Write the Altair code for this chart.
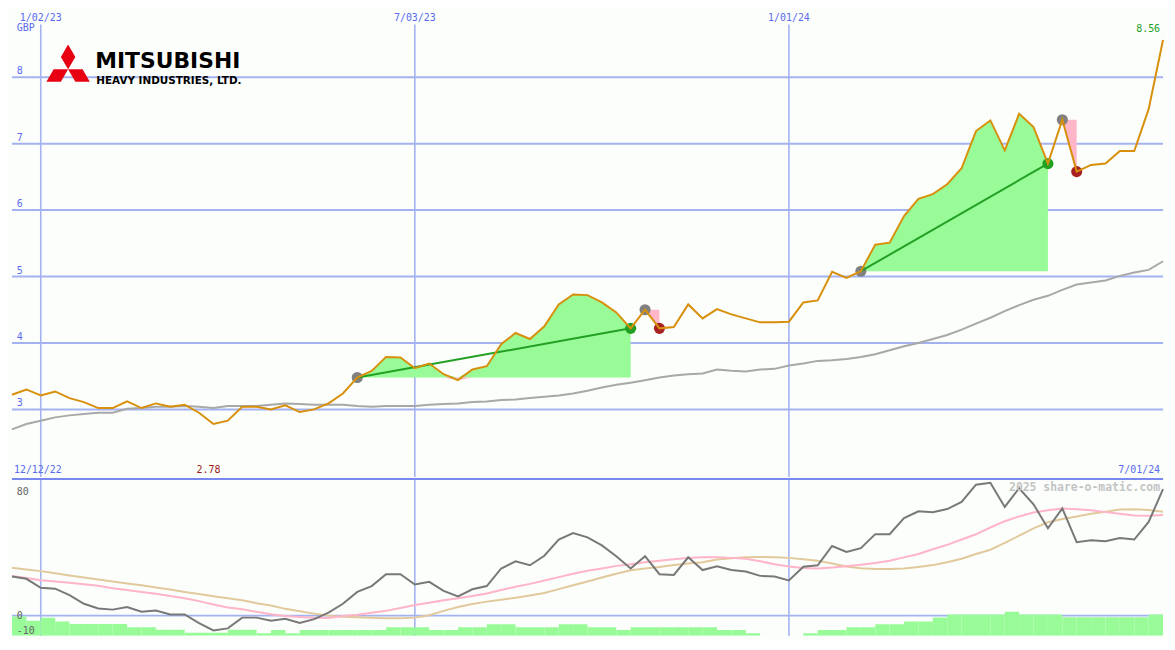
import altair as alt
import pandas as pd

# ---------------- data (weekly) ----------------
start_date = "2022-12-19"
end_date = "2024-07-01"

price = [3.22, 3.30, 3.21, 3.27, 3.17, 3.11, 3.02, 3.02, 3.12, 3.02,
         3.09, 3.04, 3.07, 2.95, 2.78, 2.83, 3.04, 3.04, 3.00, 3.06,
         2.96, 3.00, 3.09, 3.24, 3.48, 3.58, 3.79, 3.78, 3.62, 3.69,
         3.53, 3.44, 3.60, 3.65, 3.98, 4.15, 4.06, 4.25, 4.58, 4.73,
         4.72, 4.61, 4.46, 4.22, 4.50, 4.22, 4.24, 4.58, 4.37, 4.51,
         4.43, 4.37, 4.31, 4.31, 4.32, 4.61, 4.64, 5.07, 4.98, 5.08,
         5.48, 5.51, 5.91, 6.17, 6.24, 6.39, 6.63, 7.19, 7.35, 6.90,
         7.45, 7.25, 6.70, 7.36, 6.58, 6.68, 6.70, 6.89, 6.89, 7.52,
         8.56]

moving_avg = [2.70, 2.78, 2.83, 2.88, 2.91, 2.93, 2.95, 2.95, 3.01, 3.02,
              3.04, 3.04, 3.05, 3.04, 3.02, 3.05, 3.05, 3.05, 3.07, 3.09,
              3.08, 3.07, 3.07, 3.07, 3.05, 3.04, 3.05, 3.05, 3.05, 3.07,
              3.08, 3.09, 3.11, 3.12, 3.14, 3.15, 3.17, 3.19, 3.21, 3.24,
              3.28, 3.33, 3.37, 3.40, 3.44, 3.48, 3.51, 3.53, 3.54, 3.60,
              3.58, 3.57, 3.60, 3.61, 3.66, 3.69, 3.73, 3.74, 3.76, 3.79,
              3.83, 3.89, 3.95, 4.00, 4.06, 4.12, 4.20, 4.29, 4.38, 4.48,
              4.57, 4.65, 4.71, 4.80, 4.88, 4.91, 4.94, 5.01, 5.06, 5.10,
              5.23]

osc = [25.4, 23.9, 18.1, 17.5, 13.3, 7.7, 4.6, 3.9, 5.6, 2.5,
       3.3, 0.8, 0.8, -4.8, -9.6, -8.3, -1.3, -1.3, -3.3, -2.1,
       -4.8, -2.3, 1.9, 7.7, 15.4, 19.2, 26.9, 26.9, 20.2, 21.9,
       16.1, 12.5, 17.1, 19.2, 30.6, 35.2, 32.7, 38.9, 49.4, 53.6,
       50.8, 45.6, 38.6, 30.6, 38.6, 26.9, 26.4, 37.9, 29.6, 32.1,
       29.6, 28.6, 25.8, 25.4, 22.9, 31.7, 32.7, 45.2, 41.4, 43.8,
       52.9, 52.9, 63.3, 67.7, 67.1, 69.2, 73.8, 85.0, 86.3, 70.6,
       82.7, 72.3, 56.7, 69.6, 47.7, 48.9, 48.3, 50.4, 49.4, 60.8,
       82.1]

osc_fast = [25.8, 24.4, 22.9, 22.2, 21.3, 20.3, 19.4, 17.8, 16.7, 15.4,
            14.2, 12.8, 11.3, 9.4, 7.2, 5.3, 4.1, 2.5, 0.9, -0.3,
            -0.9, -1.4, -1.6, -0.3, 0.6, 1.9, 3.1, 5.0, 6.9, 8.4,
            10.0, 11.3, 12.8, 14.4, 16.6, 18.8, 20.6, 22.8, 25.0, 27.2,
            29.1, 30.6, 32.3, 33.4, 34.7, 35.6, 36.6, 37.5, 37.9, 37.9,
            37.5, 36.9, 35.3, 33.4, 31.9, 30.9, 30.6, 31.3, 32.1, 33.1,
            34.1, 35.6, 37.8, 40.0, 43.1, 45.9, 49.4, 52.8, 57.2, 61.3,
            64.4, 66.9, 68.4, 69.6, 69.1, 68.4, 67.2, 66.1, 65.0, 64.8,
            65.4]

osc_slow = [31.1, 30.0, 28.9, 27.5, 26.1, 24.7, 23.4, 22.2, 20.9, 19.7,
            18.3, 16.9, 15.4, 14.1, 12.6, 11.3, 10.0, 8.1, 6.6, 4.4,
            2.8, 1.3, 0.0, -0.8, -1.1, -1.4, -1.7, -1.7, -1.3, 0.3,
            3.1, 5.6, 7.5, 9.1, 10.3, 11.6, 13.1, 14.7, 17.2, 19.7,
            22.2, 24.7, 27.2, 29.4, 30.6, 31.6, 32.8, 33.8, 34.7, 36.4,
            37.2, 37.9, 38.1, 37.9, 37.5, 36.6, 35.6, 33.8, 31.9, 30.8,
            30.3, 30.3, 30.6, 31.6, 32.8, 34.7, 36.9, 40.0, 42.8, 47.2,
            51.9, 56.6, 60.6, 62.7, 64.4, 66.1, 67.5, 68.9, 69.1, 68.6,
            67.5]

bars = [-0.6, -3.3, -1.3, -3.75, -5.4, -5.4, -5.4, -5.4, -7.5, -7.5,
        -9.2, -9.2, -11.1, -11.1, -11.1, -9.2, -9.2, -11.4, -9.4, -11.4,
        -9.4, -9.4, -9.4, -9.4, -9.4, -9.4, -7.5, -7.5, -7.5, -9.4,
        -9.4, -7.5, -7.5, -5.6, -5.6, -7.5, -7.5, -7.5, -5.6, -5.6,
        -7.5, -7.5, -9.4, -7.5, -7.5, -7.5, -7.5, -7.5, -7.5, -9.4,
        -9.4, -11.4, -13.5, -13.5, -13.5, -11.4, -9.4, -9.4, -7.5, -7.5,
        -5.6, -5.6, -3.75, -3.75, -1.2, 0.8, 0.8, 0.8, 0.8, 2.5,
        0.8, 0.8, 0.8, -1.0, -1.0, -1.0, -1.0, -1.0, -1.0, 0.8]

trade_entries = [24, 44, 59, 73]
trade_exits = [43, 45, 72, 74]

grid_dates = ["2023-01-02", "2023-07-03", "2024-01-01"]
grid_labels = ["1/02/23", "7/03/23", "1/01/24"]
price_ticks = [3, 4, 5, 6, 7, 8]
osc_ticks = [80, 0, -10]
first_label = "12/12/22"
last_label = "7/01/24"

# ---------------- layout / style ----------------
W = 1159
H_TOP = 470
H_BOT = 158
SX = W / 1175
SY = (H_TOP + H_BOT) / 650


def px(x):
    return x * SX


def py(y):
    return y * SY


BG = "#fbfefb"
GRID = "#a4b2f2"
SEP = "#7888ee"
BLUE_TXT = "#5a6af0"
ORANGE = "#d8900c"
MA_GREY = "#a8a8a8"
GREEN_FILL = "#98fb98"
PINK_FILL = "#ffb6c8"
TREND = "#22a022"
MONO = "DejaVu Sans Mono"

dates = [d.strftime("%Y-%m-%d") for d in pd.date_range(start_date, periods=len(price), freq="7D")]
dates_next = [d.strftime("%Y-%m-%d") for d in pd.date_range(start_date, periods=len(price), freq="7D")[1:]]


def ms(s):
    return int(pd.Timestamp(s, tz="UTC").timestamp() * 1000)


xs = alt.Scale(type="utc", domain=[ms(start_date), ms(end_date)], nice=False)
ys_top = alt.Scale(domain=[1.983, 9.01], nice=False, zero=False)
ys_bot = alt.Scale(domain=[-13.125, 88.75], nice=False, zero=False)

X = alt.X("date:T", scale=xs, axis=None)

df = pd.DataFrame({"date": dates, "price": price, "ma": moving_avg,
                   "osc": osc, "fast": osc_fast, "slow": osc_slow})
bars_df = pd.DataFrame({"date": dates[:len(bars)], "date2": dates_next[:len(bars)], "v": bars})

rows, pts, trend = [], [], []
for t, (a, b) in enumerate(zip(trade_entries, trade_exits)):
    for i in range(a, b + 1):
        rows.append({"date": dates[i], "price": price[i], "entry": price[a], "trade": t})
    win = price[b] > price[a]
    pts.append({"date": dates[a], "price": price[a], "kind": "entry"})
    pts.append({"date": dates[b], "price": price[b], "kind": "win" if win else "loss"})
    if win:
        trend.append({"date": dates[a], "price": price[a], "trade": t})
        trend.append({"date": dates[b], "price": price[b], "trade": t})
trades_df = pd.DataFrame(rows)
pts_df = pd.DataFrame(pts)
trend_df = pd.DataFrame(trend)

# ---------------- top panel ----------------
hgrid = alt.Chart(pd.DataFrame({"v": price_ticks})).mark_rule(color=GRID, strokeWidth=2).encode(
    y=alt.Y("v:Q", scale=ys_top, axis=None))
vgrid_top = alt.Chart(pd.DataFrame({"date": grid_dates})).mark_rule(color=GRID, strokeWidth=1.6).encode(
    x=X, y=alt.value(py(15)), y2=alt.value(H_TOP))
ma_line = alt.Chart(df).mark_line(color=MA_GREY, strokeWidth=2).encode(
    x=X, y=alt.Y("ma:Q", scale=ys_top, axis=None))
green_area = alt.Chart(trades_df).transform_calculate(
    hi="max(datum.price, datum.entry)").mark_area(color=GREEN_FILL, opacity=1).encode(
    x=X, y=alt.Y("hi:Q", scale=ys_top, axis=None), y2="entry:Q", detail="trade:N")
pink_area = alt.Chart(trades_df).transform_calculate(
    lo="min(datum.price, datum.entry)").mark_area(color=PINK_FILL, opacity=1).encode(
    x=X, y=alt.Y("lo:Q", scale=ys_top, axis=None), y2="entry:Q", detail="trade:N")
dots = alt.Chart(pts_df).mark_circle(size=125, opacity=1).encode(
    x=X, y=alt.Y("price:Q", scale=ys_top, axis=None),
    color=alt.Color("kind:N", scale=alt.Scale(domain=["entry", "win", "loss"],
                                              range=["#808080", "#22a022", "#a82020"]), legend=None))
trend_line = alt.Chart(trend_df).mark_line(color=TREND, strokeWidth=2).encode(
    x=X, y=alt.Y("price:Q", scale=ys_top, axis=None), detail="trade:N")
price_line = alt.Chart(df).mark_line(color=ORANGE, strokeWidth=2).encode(
    x=X, y=alt.Y("price:Q", scale=ys_top, axis=None))

date_lbl = alt.Chart(pd.DataFrame({"date": grid_dates, "t": grid_labels})).mark_text(
    font=MONO, fontSize=10, color=BLUE_TXT, align="center", baseline="middle").encode(
    x=X, y=alt.value(py(8)), text="t:N")
ytick_lbl = alt.Chart(pd.DataFrame({"v": price_ticks, "t": [str(v) for v in price_ticks]})).mark_text(
    font=MONO, fontSize=10, color=BLUE_TXT, align="left", baseline="middle", dy=-6).encode(
    x=alt.value(px(5)), y=alt.Y("v:Q", scale=ys_top, axis=None), text="t:N")
gbp_lbl = alt.Chart(pd.DataFrame({"t": ["GBP"]})).mark_text(
    font=MONO, fontSize=10, color=BLUE_TXT, align="left", baseline="middle").encode(
    x=alt.value(px(5)), y=alt.value(py(19)), text="t:N")
last_val = alt.Chart(pd.DataFrame({"t": [f"{price[-1]:.2f}"]})).mark_text(
    font=MONO, fontSize=10, color="#22a022", align="right", baseline="middle").encode(
    x=alt.value(px(1172)), y=alt.value(py(20)), text="t:N")
i_min = price.index(min(price))
min_lbl = alt.Chart(pd.DataFrame({"date": [dates[i_min]], "t": [f"{min(price):.2f}"]})).mark_text(
    font=MONO, fontSize=10, color="#a01818", align="center", baseline="middle", dx=-5).encode(
    x=X, y=alt.value(py(479)), text="t:N")
range_lbl = alt.Chart(pd.DataFrame({"t": [first_label]})).mark_text(
    font=MONO, fontSize=10, color=BLUE_TXT, align="left", baseline="middle").encode(
    x=alt.value(px(2)), y=alt.value(py(479)), text="t:N")
range_lbl2 = alt.Chart(pd.DataFrame({"t": [last_label]})).mark_text(
    font=MONO, fontSize=10, color=BLUE_TXT, align="right", baseline="middle").encode(
    x=alt.value(px(1172)), y=alt.value(py(479)), text="t:N")

LOGO_PATH = ("M0,0 L-0.29,-0.5 L0,-1 L0.29,-0.5 Z "
             "M0,0 L0.58,0 L0.87,0.5 L0.29,0.5 Z "
             "M0,0 L-0.58,0 L-0.87,0.5 L-0.29,0.5 Z")
logo_mark = alt.Chart(pd.DataFrame({"k": [1]})).mark_point(
    shape=LOGO_PATH, filled=True, color="#e60012", opacity=1, size=(2 * 26 * SY) ** 2).encode(
    x=alt.value(px(57.3)), y=alt.value(py(61.7)))
logo_t1 = alt.Chart(pd.DataFrame({"t": ["MITSUBISHI"]})).mark_text(
    font="DejaVu Sans", fontSize=22, fontWeight="bold", color="black", align="left",
    baseline="alphabetic").encode(x=alt.value(px(85)), y=alt.value(py(60)), text="t:N")
logo_t2 = alt.Chart(pd.DataFrame({"t": ["HEAVY INDUSTRIES, LTD."]})).mark_text(
    font="DejaVu Sans", fontSize=10.5, fontWeight="bold", color="black", align="left",
    baseline="alphabetic").encode(x=alt.value(px(86)), y=alt.value(py(76.5)), text="t:N")

top = alt.layer(hgrid, vgrid_top, ma_line, green_area, pink_area, dots, trend_line, price_line,
                date_lbl, ytick_lbl, gbp_lbl, last_val, min_lbl, range_lbl, range_lbl2,
                logo_mark, logo_t1, logo_t2).properties(width=W, height=H_TOP)

# ---------------- bottom panel ----------------
vgrid_bot = alt.Chart(pd.DataFrame({"date": grid_dates})).mark_rule(color=GRID, strokeWidth=1.6).encode(x=X)
zero_line = alt.Chart(pd.DataFrame({"v": [0]})).mark_rule(color=GRID, strokeWidth=2).encode(
    y=alt.Y("v:Q", scale=ys_bot, axis=None))
bar_rects = alt.Chart(bars_df).mark_rect(color=GREEN_FILL, clip=True).encode(
    x=X, x2="date2:T", y=alt.Y("v:Q", scale=ys_bot, axis=None), y2=alt.value(H_BOT))
slow_line = alt.Chart(df).mark_line(color="#e2c99c", strokeWidth=2).encode(
    x=X, y=alt.Y("slow:Q", scale=ys_bot, axis=None))
fast_line = alt.Chart(df).mark_line(color="#ffb4c8", strokeWidth=2).encode(
    x=X, y=alt.Y("fast:Q", scale=ys_bot, axis=None))
osc_line = alt.Chart(df).mark_line(color="#787878", strokeWidth=2).encode(
    x=X, y=alt.Y("osc:Q", scale=ys_bot, axis=None))
osc_lbl = alt.Chart(pd.DataFrame({"v": osc_ticks, "t": [str(v) for v in osc_ticks],
                                  "dy": [-5, -5, -2]})).mark_text(
    font=MONO, fontSize=10, color="#666666", align="left", baseline="middle").encode(
    x=alt.value(px(5)), y=alt.Y("v:Q", scale=ys_bot, axis=None), yOffset=alt.YOffset("dy:Q", scale=None),
    text="t:N")
watermark = alt.Chart(pd.DataFrame({"t": ["2025 share-o-matic.com"]})).mark_text(
    font=MONO, fontSize=11.5, fontWeight="bold", color="#c4c4c4", align="right", baseline="middle").encode(
    x=alt.value(px(1172)), y=alt.value(py(9)), text="t:N")
separator = alt.Chart(pd.DataFrame({"k": [1]})).mark_rule(color=SEP, strokeWidth=2).encode(
    x=alt.value(0), x2=alt.value(W), y=alt.value(0))

bottom = alt.layer(vgrid_bot, zero_line, bar_rects, slow_line, fast_line, osc_line,
                   osc_lbl, watermark, separator).properties(width=W, height=H_BOT)

chart = alt.vconcat(top, bottom, spacing=0).properties(
    padding=0, background=BG).configure_view(stroke=None)

chart.save("out.html", embed_options={"renderer": "svg", "actions": False})
